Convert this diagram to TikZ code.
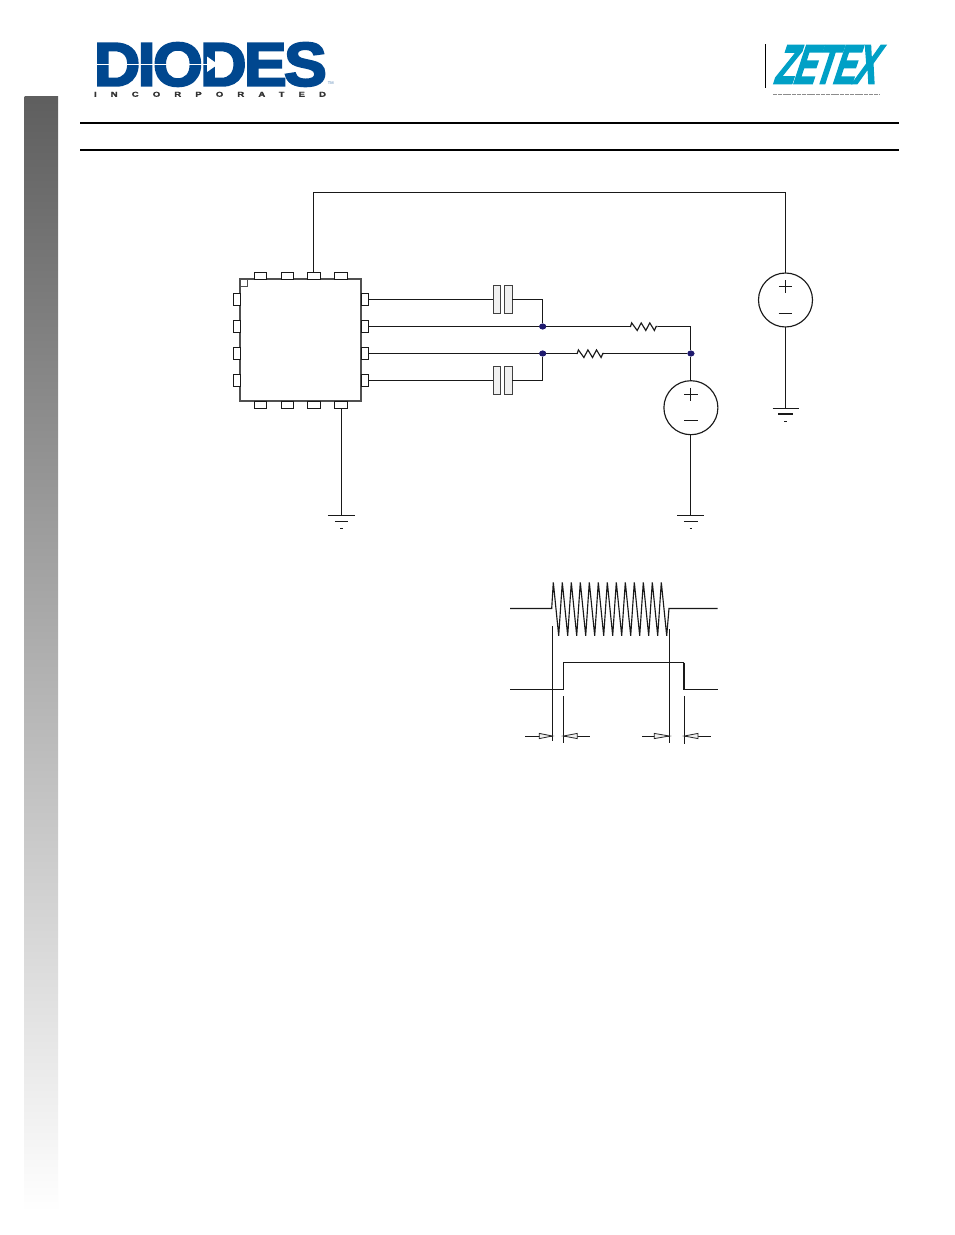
\documentclass[tikz,border=0pt]{standalone}
\usepackage{fontspec}
\setmainfont{Liberation Sans}
\newfontfamily\heavyfont[BoldFeatures={FakeBold=3.5,LetterSpace=-4}]{Liberation Sans}
\newfontfamily\midfont[BoldFeatures={FakeBold=1.5,LetterSpace=150}]{Liberation Sans}
\usetikzlibrary{calc,shapes.geometric}
\definecolor{diodesblue}{HTML}{00478F}
\definecolor{zetexblue}{HTML}{00A0C6}
\definecolor{dotblue}{HTML}{1F1A6E}
\definecolor{icgray}{HTML}{505050}
\tikzset{
  wire/.style={draw=black!90,line width=0.85pt},
  chip/.style={draw=icgray,line width=1.4pt,fill=white,inner sep=0,outer sep=0,minimum width=91pt,minimum height=91pt},
  pinh/.style={draw=black!90,line width=0.65pt,fill=white,inner sep=0,outer sep=0,minimum width=5.2pt,minimum height=9.6pt},
  pinv/.style={draw=black!90,line width=0.65pt,fill=white,inner sep=0,outer sep=0,minimum width=9.4pt,minimum height=5.3pt},
  plate/.style={draw=black!75,line width=0.8pt,fill=black!6,inner sep=0,outer sep=0,minimum width=5.6pt,minimum height=20.4pt},
  dotj/.style={ellipse,fill=dotblue,inner sep=0,minimum width=5.2pt,minimum height=4.4pt},
  src/.style={circle,draw=black!90,line width=0.85pt,inner sep=0,outer sep=0,minimum size=40.5pt},
  tri/.style={draw=black!85,line width=0.6pt,fill=black!6},
  pt/.style={inner sep=0,outer sep=0,minimum size=0pt},
  thinw/.style={wire,line width=0.7pt},
}
\newcommand{\gndsym}[6]{%
  \draw[wire] ($(#1)+(-#2,0)$) -- ($(#1)+(#2,0)$);
  \draw[wire,line width=#5] ($(#1)+(-#3,#6)$) -- ($(#1)+(#3,#6)$);
  \draw[wire] ($(#1)+(-#4,13)$) -- ($(#1)+(#4,13)$);
}
\newcommand{\resz}[2]{%
  \draw[wire] (#1) -- ++(0.5,0) -- ++(1.2,-3.6) -- ++(5.5,7.6) -- ++(4,-7.6) -- ++(4.6,7.6) -- ++(4,-7.6) -- ++(4.6,7.6) -- ++(1.7,-4) -- (#2);
}
\newcommand{\signplus}[1]{%
  \draw[wire] ($(#1)+(-6.7,0)$) -- ($(#1)+(6.7,0)$);
  \draw[wire] ($(#1)+(0,-6.7)$) -- ($(#1)+(0,6.7)$);
}
\newcommand{\signminus}[1]{\draw[wire] ($(#1)+(-6.9,0)$) -- ($(#1)+(6.9,0)$);}
\begin{document}
\begin{tikzpicture}[x=0.75pt,y=-0.75pt]
\useasboundingbox (0,0) rectangle (954,1235);
\fill[white] (0,0) rectangle (954,1235);

% side bar
\shade[top color=black!63,bottom color=white] (24.6,96) rectangle (58.2,1212);

% rules
\draw[black,line width=1.2pt] (80,123) -- (899,123);
\draw[black,line width=1.2pt] (80,150) -- (899,150);

% DIODES logo
\node[pt,anchor=north west,text=diodesblue] (diodes) at (94,42.7)
  {\resizebox{174.5pt}{32.2pt}{\heavyfont\bfseries DIODES}};
\draw[white,line width=1.1pt] (94,64.3) -- (207,64.3);
\fill[white] (207,56.5) -- (218,64.3) -- (207,72) -- cycle;
\node[pt,anchor=west,text=black!80] (incorp) at (94,94.3)
  {\resizebox{174pt}{3.75pt}{\midfont\bfseries INCORPORATED}};
\node[pt,text=diodesblue!70] (tm) at (330.7,83.5) {\fontsize{3pt}{3pt}\selectfont TM};

% ZETEX logo
\draw[black,line width=0.8pt] (765.3,44) -- (765.3,88.3);
\node[pt,anchor=center,text=zetexblue,xslant=0.33] (zetex) at (829.7,64.5)
  {\resizebox{76pt}{28.2pt}{\heavyfont\bfseries ZETEX}};
\draw[black!45,line width=0.6pt,dash pattern=on 3pt off 0.6pt] (773,94) -- (880,94);

% chip
\node[chip] (ic) at (300.6,340) {};
\draw[icgray,line width=0.6pt] (240,286) -- (247.7,286) -- (247.7,279);
\foreach \n/\x in {1/260.5,2/287.5,3/314,4/340.8}{
  \node[pinv,anchor=south] (t\n) at (\x,279) {};
  \node[pinv,anchor=north] (b\n) at (\x,401) {};
}
\foreach \n/\y in {1/299.5,2/326.5,3/353.5,4/380.5}{
  \node[pinh,anchor=east] (l\n) at (240,\y) {};
  \node[pinh,anchor=west] (r\n) at (361.4,\y) {};
}

% capacitors
\node[plate,anchor=east] (c1a) at (500.7,299.5) {};
\node[plate,anchor=west] (c1b) at (504.7,299.5) {};
\node[plate,anchor=east] (c2a) at (500.7,380.5) {};
\node[plate,anchor=west] (c2b) at (504.7,380.5) {};

% junctions
\node[dotj] (j1) at (542.7,326.5) {};
\node[dotj] (j2) at (542.7,353.5) {};
\node[dotj] (j3) at (690.9,353.5) {};

% sources
\node[src] (v1) at (690.9,407.7) {};
\node[src] (v2) at (785.5,300) {};
\signplus{690.9,394.3}
\signminus{690.9,420.5}
\signplus{785.5,286.7}
\signminus{785.5,313.3}

% named free points
\coordinate (tc) at (785.5,192.5);
\coordinate (tl) at (313.4,192.5);
\coordinate (tp) at (313.4,272.8);
\coordinate (bp) at (341.4,408);
\coordinate (g1) at (341.4,515.3);
\coordinate (g2) at (690.9,515.3);
\coordinate (g3) at (785.5,408.3);
\coordinate (r1a) at (630,326.5);
\coordinate (r1b) at (657.5,326.5);
\coordinate (r2a) at (576.7,353.5);
\coordinate (r2b) at (604,353.5);
\coordinate (cr) at (690.9,326.5);

% wires
\draw[wire] (tp) -- (tl) -- (tc) -- (v2.north);
\draw[wire] (v2.south) -- (g3);
\draw[wire] (bp) -- (g1);
\draw[wire] (v1.south) -- (g2);
\draw[wire] (r1.east) -- (c1a.west);
\draw[wire] (r4.east) -- (c2a.west);
\draw[wire] (c1b.east) -| (j1);
\draw[wire] (c2b.east) -| (j2);
\draw[wire] (r2.east) -- (j1) -- (r1a);
\draw[wire] (r3.east) -- (j2) -- (r2a);
\draw[wire] (r1b) -- (cr) -- (j3);
\draw[wire] (r2b) -- (j3);
\draw[wire] (j3) -- (v1.north);
\resz{r1a}{r1b}
\resz{r2a}{r2b}
\node[dotj] at (j1) {};
\node[dotj] at (j2) {};
\node[dotj] at (j3) {};

% grounds
\gndsym{g1}{13.5}{6.5}{1.2}{0.85pt}{6.2}
\gndsym{g2}{13.5}{7}{1.2}{0.85pt}{6.2}
\gndsym{g3}{13}{7.5}{1.2}{1.6pt}{5.8}

% waveform 1
\coordinate (w1a) at (510,608.5);
\coordinate (w1b) at (717.7,608.5);
\draw[wire,line join=miter,miter limit=3] (w1a) -- (551.7,608.5) -- (553.3,582.3)
  \foreach \k in {0,...,12}{ -- ({558.7+9*\k},635.7) \ifnum\k<12 -- ({562.3+9*\k},582.3)\fi }
  -- (669,608.5) -- (w1b);

% waveform 2
\coordinate (w2a) at (510,689.5);
\coordinate (w2b) at (717.7,689.5);
\draw[wire] (w2a) -- (563.6,689.5) -- (563.6,662.5) -- (684,662.5);
\draw[wire,line width=1.4pt] (684,662.5) -- (684,689.5);
\draw[wire] (684,689.5) -- (w2b);

% timing marks
\coordinate (m1a) at (552.3,626);   \coordinate (m1b) at (552.3,740.7);
\coordinate (m2a) at (563.4,696);   \coordinate (m2b) at (563.4,742.7);
\coordinate (m3a) at (669.3,629.3); \coordinate (m3b) at (669.3,742.7);
\coordinate (m4a) at (684.3,696);   \coordinate (m4b) at (684.3,744);
\draw[thinw] (m1a) -- (m1b);
\draw[thinw] (m2a) -- (m2b);
\draw[thinw] (m3a) -- (m3b);
\draw[thinw] (m4a) -- (m4b);
\coordinate (a1) at (525,736);
\coordinate (a2) at (589.7,736);
\coordinate (a3) at (642.3,736);
\coordinate (a4) at (710.7,736);
\draw[thinw] (a1) -- (m1a |- a1);
\draw[thinw] (a2) -- (m2a |- a2);
\draw[thinw] (a3) -- (m3a |- a3);
\draw[thinw] (a4) -- (m4a |- a4);
\draw[tri] (539.3,733.4) -- (552.3,736) -- (539.3,738.6) -- cycle;
\draw[tri] (577.3,733.4) -- (563.4,736) -- (577.3,738.6) -- cycle;
\draw[tri] (654.3,733.4) -- (669.3,736) -- (654.3,738.6) -- cycle;
\draw[tri] (698,733.4) -- (684.3,736) -- (698,738.6) -- cycle;
\end{tikzpicture}
\end{document}
